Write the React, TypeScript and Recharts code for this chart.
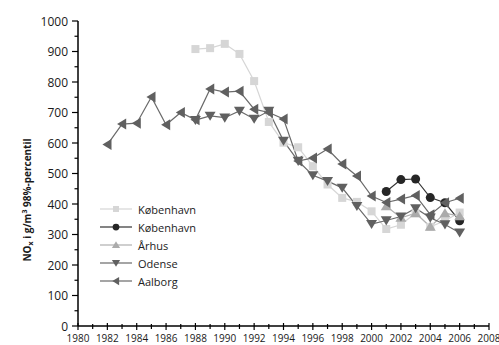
import { LineChart, Line, XAxis, YAxis } from "recharts"

const X_TICKS = [1980, 1981, 1982, 1983, 1984, 1985, 1986, 1987, 1988, 1989, 1990, 1991, 1992, 1993, 1994, 1995, 1996, 1997, 1998, 1999, 2000, 2001, 2002, 2003, 2004, 2005, 2006, 2007, 2008]
const Y_TICKS = [0, 50, 100, 150, 200, 250, 300, 350, 400, 450, 500, 550, 600, 650, 700, 750, 800, 850, 900, 950, 1000]

const YEARS = [1982, 1983, 1984, 1985, 1986, 1987, 1988, 1989, 1990, 1991, 1992, 1993, 1994, 1995, 1996, 1997, 1998, 1999, 2000, 2001, 2002, 2003, 2004, 2005, 2006]

const AALBORG_YEARS = YEARS
const AALBORG = [595, 662, 665, 751, 660, 700, 676, 777, 767, 770, 711, 700, 679, 541, 551, 580, 531, 492, 426, 405, 416, 428, 365, 404, 419]

const ODENSE_YEARS = [1988, 1989, 1990, 1991, 1992, 1993, 1994, 1995, 1996, 1997, 1998, 1999, 2000, 2001, 2002, 2003, 2004, 2005, 2006]
const ODENSE = [675, 689, 683, 705, 679, 705, 607, 541, 494, 475, 453, 393, 334, 346, 359, 386, 355, 333, 306]

const KBH_SQ_YEARS = [1988, 1989, 1990, 1991, 1992, 1993, 1994, 1995, 1996, 1997, 1998, 1999, 2000, 2001, 2002, 2003, 2004, 2005, 2006]
const KBH_SQ = [908, 911, 925, 892, 803, 669, 601, 586, 524, 464, 420, 407, 376, 318, 332, 370, 325, 345, 372]

const KBH_CI_YEARS = [2001, 2002, 2003, 2004, 2005, 2006]
const KBH_CI = [441, 480, 482, 421, 404, 345]

const ARHUS_YEARS = [2001, 2002, 2003, 2004, 2005, 2006]
const ARHUS = [393, 355, 370, 326, 370, 360]

const pick = (years: number[], vals: number[], y: number) => {
  const i = years.indexOf(y)
  return i < 0 ? null : vals[i]
}

const data = YEARS.map(year => ({
  year,
  kbhSq: pick(KBH_SQ_YEARS, KBH_SQ, year),
  kbhCi: pick(KBH_CI_YEARS, KBH_CI, year),
  arhus: pick(ARHUS_YEARS, ARHUS, year),
  odense: pick(ODENSE_YEARS, ODENSE, year),
  aalborg: pick(AALBORG_YEARS, AALBORG, year),
}))

const FONT = "'Open Sans', sans-serif"

type Shape = "square" | "circle" | "up" | "down" | "left"

function Marker({ shape, cx, cy, fill, k = 1 }: { shape: Shape; cx: number; cy: number; fill: string; k?: number }) {
  const r = 5.5 * k
  if (shape === "square") return <rect x={cx - 4 * k} y={cy - 4 * k} width={8 * k} height={8 * k} fill={fill} />
  if (shape === "circle") return <circle cx={cx} cy={cy} r={4.5 * k} fill={fill} />
  let pts = ""
  if (shape === "down") pts = `${cx - r},${cy - r * 0.75} ${cx + r},${cy - r * 0.75} ${cx},${cy + r * 0.9}`
  if (shape === "up") pts = `${cx - r},${cy + r * 0.75} ${cx + r},${cy + r * 0.75} ${cx},${cy - r * 0.9}`
  if (shape === "left") pts = `${cx + r * 0.75},${cy - r} ${cx + r * 0.75},${cy + r} ${cx - r * 0.9},${cy}`
  return <polygon points={pts} fill={fill} />
}

const SERIES: { key: string; name: string; shape: Shape; line: string; fill: string }[] = [
  { key: "kbhSq", name: "København", shape: "square", line: "#d6d6d6", fill: "#d6d6d6" },
  { key: "kbhCi", name: "København", shape: "circle", line: "#333333", fill: "#262626" },
  { key: "arhus", name: "Århus", shape: "up", line: "#b0b0b0", fill: "#ababab" },
  { key: "odense", name: "Odense", shape: "down", line: "#6a6a6a", fill: "#606060" },
  { key: "aalborg", name: "Aalborg", shape: "left", line: "#6a6a6a", fill: "#606060" },
]

function makeDot(shape: Shape, fill: string) {
  return (p: any) => {
    if (p.cx == null || p.cy == null || p.value == null) return <g key={p.index} />
    return <Marker key={p.index} shape={shape} cx={p.cx} cy={p.cy} fill={fill} />
  }
}

function YTick({ x, y, payload }: any) {
  const major = payload.value % 100 === 0
  return (
    <g>
      <line x1={x - (major ? 6 : 3.5)} x2={x} y1={y} y2={y} stroke="#000" strokeWidth={1.2} />
      {major && (
        <text x={x - 10} y={y} dy={4.5} textAnchor="end" fontSize={12} fontFamily={FONT} fill="#1a1a1a">
          {payload.value}
        </text>
      )}
    </g>
  )
}

function XTick({ x, y, payload }: any) {
  const major = payload.value % 2 === 0
  return (
    <g>
      <line x1={x} x2={x} y1={y - (major ? 3 : 2)} y2={y + (major ? 4 : 3)} stroke="#000" strokeWidth={1.2} />
      {major && (
        <text x={x} y={y + 16} textAnchor="middle" fontSize={10} fontFamily={FONT} fill="#1a1a1a">
          {payload.value}
        </text>
      )}
    </g>
  )
}

function YTitle() {
  return (
    <text transform="translate(31,200) rotate(-90)" textAnchor="middle" fontSize={10} fontWeight="bold" fontFamily={FONT} fill="#1a1a1a">
      NO<tspan fontSize={7} dy={2}>x</tspan>
      <tspan dy={-2}> i g/m</tspan>
      <tspan fontSize={7} dy={-4}>3</tspan>
      <tspan dy={4}> 98%-percentil</tspan>
    </text>
  )
}

function LegendBox() {
  return (
    <div style={{ position: "absolute", left: 100, top: 200, fontFamily: FONT, fontSize: 11, color: "#222" }}>
      {SERIES.map(s => (
        <div key={s.key + s.shape} style={{ display: "flex", alignItems: "center", height: 18 }}>
          <svg width={32} height={18}>
            <line x1={0} x2={32} y1={9} y2={9} stroke={s.line} strokeWidth={1.2} />
            <Marker shape={s.shape} cx={16} cy={9} fill={s.fill} k={0.75} />
          </svg>
          <span style={{ marginLeft: 6 }}>{s.name}</span>
        </div>
      ))}
    </div>
  )
}

export default function App() {
  return (
    <div style={{ width: 499, height: 345, background: "#fff", position: "relative" }}>
      <style>{"body{margin:0}"}</style>
      <LineChart width={499} height={345} data={data} margin={{ top: 21, right: 10, bottom: 0, left: 0 }}>
        <XAxis
          dataKey="year"
          type="number"
          domain={[1980, 2008]}
          ticks={X_TICKS}
          interval={0}
          tickSize={0}
          tickMargin={0}
          tickLine={false}
          tick={(p: any) => <XTick {...p} />}
          axisLine={{ stroke: "#000", strokeWidth: 1.5 }}
          height={19}
        />
        <YAxis
          type="number"
          domain={[0, 1000]}
          ticks={Y_TICKS}
          interval={0}
          tickSize={0}
          tickMargin={0}
          tickLine={false}
          tick={(p: any) => <YTick {...p} />}
          axisLine={{ stroke: "#000", strokeWidth: 1.5 }}
          width={78}
          label={<YTitle />}
        />
        {SERIES.map(s => (
          <Line
            key={s.key}
            dataKey={s.key}
            name={s.name}
            stroke={s.line}
            strokeWidth={1.2}
            dot={makeDot(s.shape, s.fill)}
            activeDot={false}
            isAnimationActive={false}
          />
        ))}
      </LineChart>
      <LegendBox />
    </div>
  )
}
